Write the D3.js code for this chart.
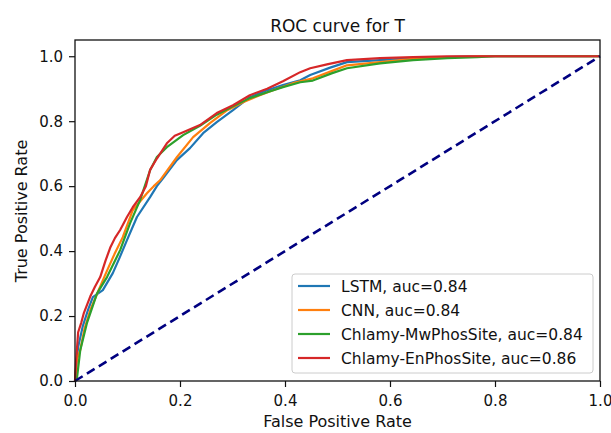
<!DOCTYPE html>
<html>
<head>
<meta charset="utf-8">
<script src="https://cdn.jsdelivr.net/npm/d3@7"></script>
<style>
  body { margin: 0; background: #fff; }
  svg text { font-family: "DejaVu Sans", sans-serif; fill: #111; }
</style>
</head>
<body>
<div id="chart"></div>
<script>
// ROC points, [fpr, tpr]
var lstm = [[0,0],[0.003,0.06],[0.006,0.105],[0.015,0.17],[0.025,0.22],[0.034,0.258],[0.053,0.28],[0.072,0.332],[0.085,0.38],[0.099,0.434],[0.118,0.505],[0.143,0.566],[0.156,0.6],[0.168,0.625],[0.194,0.68],[0.219,0.717],[0.244,0.763],[0.27,0.797],[0.301,0.834],[0.333,0.874],[0.366,0.895],[0.396,0.911],[0.429,0.926],[0.448,0.942],[0.486,0.965],[0.518,0.982],[0.581,0.988],[0.644,0.994],[0.709,0.997],[0.75,1.0],[1,1]];
var cnn = [[0,0],[0.004,0.07],[0.01,0.095],[0.018,0.16],[0.029,0.218],[0.045,0.28],[0.061,0.34],[0.075,0.39],[0.091,0.443],[0.11,0.526],[0.137,0.578],[0.15,0.6],[0.162,0.618],[0.194,0.689],[0.225,0.751],[0.257,0.794],[0.29,0.834],[0.32,0.858],[0.352,0.88],[0.385,0.9],[0.415,0.917],[0.453,0.932],[0.49,0.955],[0.518,0.972],[0.581,0.982],[0.644,0.992],[0.709,0.997],[0.77,1.0],[1,1]];
var mwphos = [[0,0],[0.004,0.012],[0.01,0.095],[0.023,0.18],[0.042,0.27],[0.061,0.32],[0.086,0.403],[0.105,0.486],[0.124,0.557],[0.135,0.61],[0.143,0.649],[0.156,0.69],[0.175,0.72],[0.206,0.757],[0.238,0.786],[0.27,0.82],[0.3,0.845],[0.333,0.871],[0.366,0.889],[0.396,0.905],[0.429,0.92],[0.453,0.925],[0.49,0.948],[0.518,0.963],[0.581,0.978],[0.644,0.988],[0.709,0.994],[0.766,0.997],[0.80,1.0],[1,1]];
var enphos = [[0,0],[0.002,0.06],[0.004,0.105],[0.006,0.15],[0.012,0.18],[0.017,0.21],[0.029,0.26],[0.038,0.29],[0.048,0.32],[0.058,0.37],[0.067,0.41],[0.076,0.44],[0.086,0.465],[0.099,0.505],[0.11,0.535],[0.124,0.566],[0.135,0.6],[0.143,0.65],[0.156,0.685],[0.175,0.732],[0.19,0.755],[0.206,0.766],[0.238,0.788],[0.27,0.825],[0.301,0.849],[0.333,0.88],[0.366,0.9],[0.396,0.923],[0.429,0.951],[0.448,0.963],[0.48,0.975],[0.518,0.988],[0.581,0.994],[0.644,0.997],[0.709,1.0],[1,1]];
var chance = [[0,0],[1,1]];

var seriesNames = ["LSTM, auc=0.84", "CNN, auc=0.84", "Chlamy-MwPhosSite, auc=0.84", "Chlamy-EnPhosSite, auc=0.86"];
var seriesColors = ["#1f77b4", "#ff7f0e", "#2ca02c", "#d62728"];
var tickValues = [0, 0.2, 0.4, 0.6, 0.8, 1.0];

function plotChart() {
    var margin = {top: 40, right: 11, bottom: 52, left: 75},
    width = 611 - margin.left - margin.right,
    height = 433 - margin.top - margin.bottom;

    var svg = d3.select("#chart")
      .append("svg")
      .attr("width", 611)
      .attr("height", 433);
    var g = svg.append("g")
      .attr("transform", "translate(" + margin.left + "," + margin.top + ")");

    var x = d3.scaleLinear().domain([0, 1]).range([0, 525]);
    var y = d3.scaleLinear().domain([0, 1.05]).range([height, 0]);

    g.append("clipPath").attr("id", "clip")
      .append("rect").attr("x", -2).attr("y", 0).attr("width", 527).attr("height", height + 2);

    var line = d3.line()
      .x(function(d) { return x(d[0]); })
      .y(function(d) { return y(d[1]); });

    var all = [lstm, cnn, mwphos, enphos];
    all.forEach(function(data, i) {
        g.append("path")
          .datum(data)
          .attr("clip-path", "url(#clip)")
          .attr("fill", "none")
          .attr("stroke", seriesColors[i])
          .attr("stroke-width", 2.2)
          .attr("stroke-linejoin", "round")
          .attr("d", line);
    });

    // chance diagonal
    g.append("path")
      .datum(chance)
      .attr("fill", "none")
      .attr("stroke", "#000080")
      .attr("stroke-width", 2.6)
      .attr("stroke-dasharray", "9,5")
      .attr("d", line);

    // axes
    var xAxis = g.append("g")
      .attr("transform", "translate(0," + height + ")")
      .call(d3.axisBottom(x).tickValues(tickValues).tickFormat(d3.format(".1f")).tickSize(6).tickPadding(8));
    var yAxis = g.append("g")
      .call(d3.axisLeft(y).tickValues(tickValues).tickFormat(d3.format(".1f")).tickSize(6).tickPadding(6));
    [xAxis, yAxis].forEach(function(a) {
        a.select(".domain").remove();
        a.selectAll("line").attr("stroke", "#111").attr("stroke-width", 1.2);
        a.selectAll("text").style("font-size", "15px").attr("fill", "#111");
    });

    // frame
    g.append("rect")
      .attr("x", 0).attr("y", 0)
      .attr("width", 525).attr("height", height)
      .attr("fill", "none")
      .attr("stroke", "#111")
      .attr("stroke-width", 1.3);

    // titles
    svg.append("text")
      .attr("x", margin.left + 262.5).attr("y", 32)
      .attr("text-anchor", "middle")
      .style("font-size", "17px")
      .text("ROC curve for T");
    svg.append("text")
      .attr("x", margin.left + 262.5).attr("y", 427)
      .attr("text-anchor", "middle")
      .style("font-size", "16px")
      .text("False Positive Rate");
    svg.append("text")
      .attr("transform", "translate(27,211) rotate(-90)")
      .attr("text-anchor", "middle")
      .style("font-size", "16px")
      .text("True Positive Rate");

    // legend
    var lg = svg.append("g").attr("transform", "translate(292,274)");
    lg.append("rect")
      .attr("width", 301).attr("height", 99)
      .attr("rx", 3)
      .attr("fill", "#fff").attr("fill-opacity", 0.8)
      .attr("stroke", "#cccccc");
    seriesNames.forEach(function(name, i) {
        var yy = 12 + i * 24;
        lg.append("line")
          .attr("x1", 6).attr("x2", 38)
          .attr("y1", yy).attr("y2", yy)
          .attr("stroke", seriesColors[i])
          .attr("stroke-width", 2.2);
        lg.append("text")
          .attr("x", 49).attr("y", yy + 5.5)
          .style("font-size", "15.5px")
          .text(name);
    });
}

plotChart();
</script>
</body>
</html>
